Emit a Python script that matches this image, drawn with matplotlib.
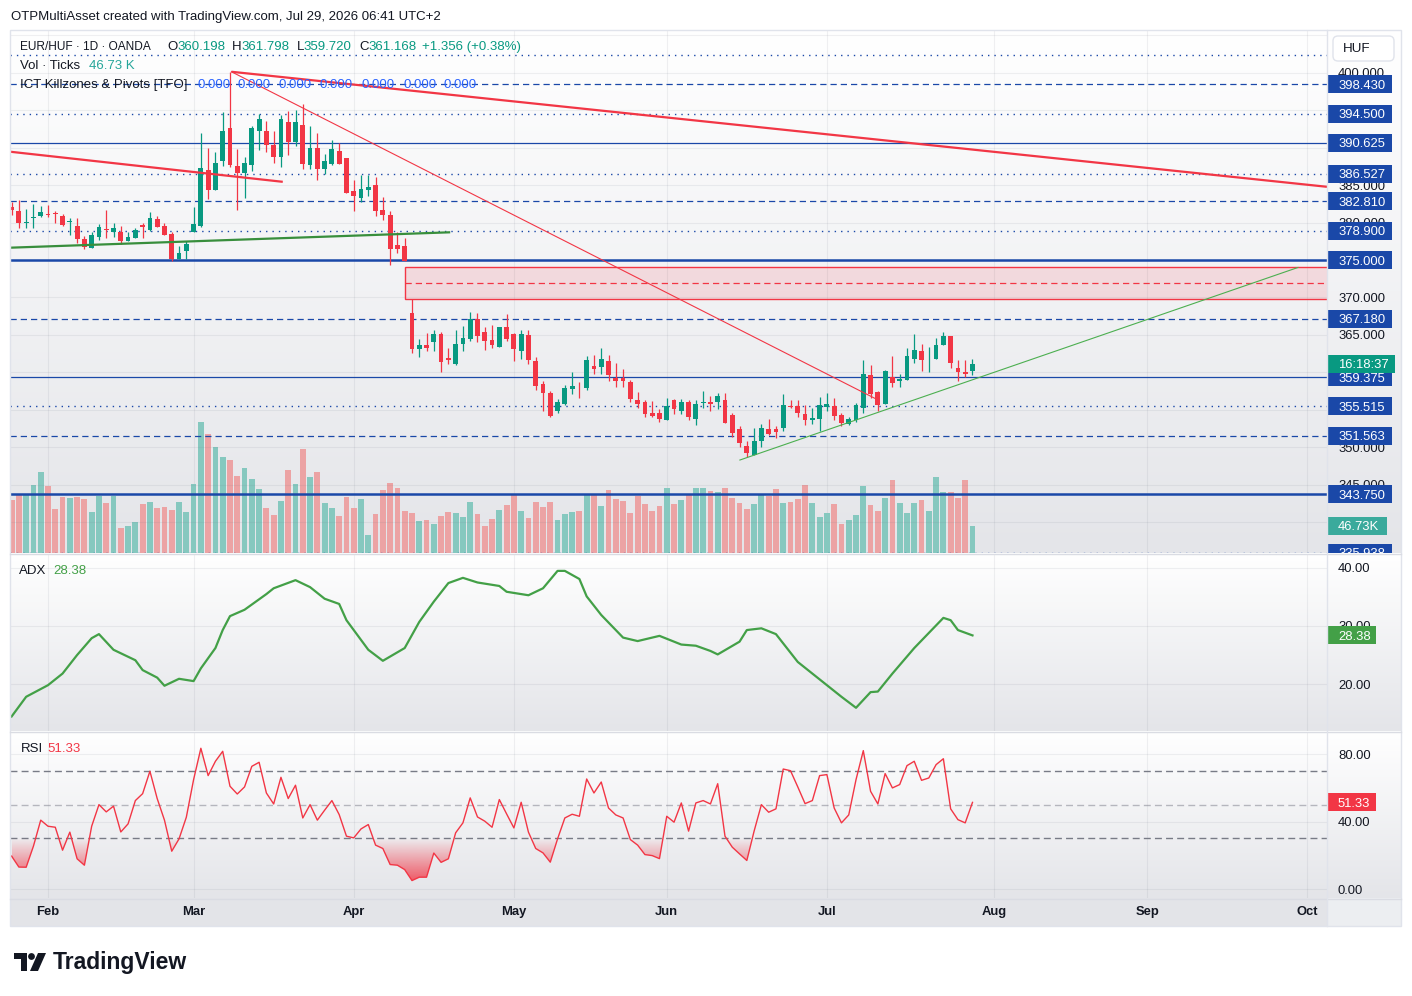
import numpy as np
import pandas as pd
import matplotlib
matplotlib.use('Agg')
import matplotlib.pyplot as plt
import matplotlib.colors as mcolors
from matplotlib.patches import Rectangle, FancyBboxPatch, Polygon, Circle, PathPatch
from matplotlib.path import Path

plt.rcParams['font.family'] = ['Liberation Sans', 'DejaVu Sans']

# ---------------- data ----------------
FIRST_DATE = '2026-01-26'
AXIS_END_DATE = '2026-10-30'

open_ = [382.1, 381.5, 379.9, 380.6, 380.9, 381.2, 381.3, 380.9, 380.1, 379.5,
         377.8, 376.6, 378.1, 379.15, 378.8, 378.8, 377.6, 378.0, 379.7, 379.0,
         380.5, 379.6, 378.5, 375.1, 376.2, 378.8, 379.5, 387.0, 384.4, 388.2,
         392.6, 387.5, 386.6, 387.7, 392.2, 392.2, 390.3, 388.7, 393.4, 390.7,
         393.0, 387.7, 390.0, 387.2, 387.8, 389.5, 388.6, 384.2, 383.3, 384.3,
         385.0, 381.7, 381.0, 377.0, 376.9, 367.9, 363.1, 363.7, 364.0, 365.1,
         361.9, 361.1, 363.8, 364.5, 367.1, 365.4, 364.3, 363.4, 366.1, 365.1,
         362.8, 365.0, 361.5, 358.5, 357.3, 354.8, 355.8, 357.85, 358.1, 357.9,
         360.9, 360.7, 361.5, 359.3, 359.3, 358.7, 356.3, 356.0, 354.65, 354.65,
         353.7, 356.3, 354.9, 356.1, 353.85, 355.9, 356.0, 356.0, 356.3, 354.3,
         352.5, 350.2, 349.05, 350.9, 352.5, 352.45, 352.6, 355.55, 355.5, 354.5,
         353.6, 353.8, 355.4, 355.5, 354.3, 353.1, 353.7, 355.3, 359.7, 357.4,
         355.8, 359.35, 358.9, 359.0, 361.8, 362.9, 362.0, 361.85, 363.6, 364.8,
         360.65, 360.0, 360.198]
high_ = [382.8, 383.0, 381.8, 382.5, 382.2, 382.3, 381.5, 381.2, 380.6, 380.6,
         378.2, 378.7, 379.8, 381.7, 379.9, 379.5, 378.8, 379.3, 380.0, 381.4,
         380.9, 379.9, 378.7, 376.9, 377.5, 382.1, 391.9, 390.0, 389.4, 394.8,
         400.1, 389.8, 388.7, 392.9, 394.5, 393.5, 392.2, 394.3, 394.9, 395.0,
         395.8, 392.9, 391.9, 389.1, 391.0, 390.6, 388.6, 385.7, 386.3, 386.4,
         386.1, 383.4, 381.6, 378.8, 377.9, 369.8, 364.4, 365.2, 365.7, 365.4,
         363.2, 365.7, 366.2, 368.0, 367.9, 366.1, 366.3, 366.1, 367.8, 365.2,
         365.6, 365.6, 362.0, 358.8, 357.5, 356.5, 358.3, 360.0, 358.7, 362.2,
         362.3, 363.2, 362.3, 361.3, 360.5, 359.0, 357.4, 356.3, 356.2, 355.1,
         356.6, 356.5, 356.5, 356.3, 356.3, 357.5, 356.9, 357.2, 357.2, 354.6,
         352.8, 350.9, 352.6, 353.1, 353.8, 352.9, 357.1, 356.3, 356.3, 355.7,
         355.2, 356.7, 357.3, 356.55, 354.65, 354.1, 355.9, 361.7, 361.0, 357.5,
         360.3, 362.2, 359.8, 363.2, 365.1, 363.8, 363.4, 364.6, 365.4, 364.9,
         361.7, 361.7, 361.798]
low_ = [381.0, 379.3, 379.3, 379.3, 380.7, 380.7, 379.9, 379.6, 378.4, 377.3,
        376.5, 376.6, 377.7, 377.9, 378.1, 377.2, 377.5, 377.9, 378.0, 378.9,
        379.4, 378.3, 374.9, 375.1, 375.1, 378.7, 379.4, 383.1, 384.3, 387.5,
        387.4, 381.7, 383.3, 386.9, 389.7, 389.4, 388.0, 387.4, 389.0, 390.2,
        387.1, 387.2, 385.7, 386.5, 387.7, 387.75, 384.0, 381.6, 382.8, 383.6,
        380.9, 380.4, 374.4, 375.9, 374.9, 362.6, 362.0, 362.9, 362.9, 360.0,
        361.1, 361.0, 362.9, 364.2, 364.0, 363.0, 363.2, 363.4, 364.2, 361.5,
        361.8, 361.1, 357.7, 354.9, 354.0, 354.6, 355.7, 357.1, 356.65, 357.7,
        359.8, 359.8, 358.9, 358.1, 358.0, 356.0, 355.3, 354.0, 354.0, 353.45,
        353.6, 354.5, 354.4, 353.7, 353.0, 355.3, 354.8, 355.1, 353.2, 351.45,
        350.0, 348.7, 349.05, 350.0, 351.7, 351.2, 352.2, 355.2, 354.1, 353.0,
        353.1, 352.2, 354.8, 353.6, 352.8, 353.0, 353.45, 354.65, 356.55, 354.9,
        355.8, 358.1, 358.0, 359.0, 361.3, 360.2, 360.1, 361.85, 363.6, 360.55,
        358.9, 359.4, 359.72]
close_ = [381.7, 380.0, 380.1, 380.8, 381.4, 381.0, 381.2, 379.7, 380.2, 377.8,
          376.8, 378.3, 379.4, 379.05, 379.3, 377.6, 378.1, 379.0, 379.4, 380.6,
          379.4, 378.4, 375.1, 375.9, 377.1, 379.8, 387.3, 384.3, 387.9, 392.2,
          387.7, 386.6, 387.9, 392.6, 393.8, 390.4, 388.8, 393.8, 390.8, 393.4,
          387.8, 390.0, 387.1, 388.2, 389.8, 387.8, 384.0, 383.6, 384.5, 384.7,
          381.6, 381.0, 376.5, 376.5, 374.9, 363.1, 363.7, 363.2, 365.1, 361.45,
          361.7, 363.8, 364.6, 367.1, 364.9, 364.2, 363.6, 366.0, 364.5, 363.1,
          365.1, 361.6, 358.2, 357.3, 354.2, 356.1, 357.9, 358.2, 358.0, 361.7,
          360.5, 361.8, 359.6, 358.9, 358.8, 356.5, 355.8, 354.4, 354.2, 353.85,
          355.5, 355.1, 356.1, 354.1, 355.8, 356.0, 355.8, 356.9, 353.2, 351.9,
          350.6, 349.2, 350.9, 352.6, 351.85, 352.1, 355.7, 355.35, 354.6, 353.7,
          353.9, 355.7, 355.8, 354.2, 353.3, 353.8, 355.7, 359.8, 357.1, 355.7,
          360.2, 358.65, 359.1, 362.2, 363.0, 361.7, 362.1, 363.7, 364.8, 361.2,
          360.1, 359.8, 361.168]
volume_k = [91.7, 100.3, 100.3, 117.6, 140.1, 115.9, 76.1, 96.9, 95.2, 96.9,
            93.4, 70.9, 98.6, 86.5, 98.6, 43.3, 46.7, 53.6, 84.8, 88.2,
            77.9, 79.6, 74.4, 88.2, 70.9, 119.4, 226.6, 205.9, 183.4, 166.1,
            160.9, 133.2, 147.1, 128.0, 110.7, 77.9, 65.7, 90.0, 143.6, 119.4,
            179.9, 131.5, 140.1, 86.5, 77.9, 64.0, 96.9, 77.9, 93.4, 31.1,
            67.5, 109.0, 121.1, 112.5, 72.7, 69.2, 55.4, 57.1, 50.2, 64.0,
            70.9, 69.2, 62.3, 88.2, 67.5, 46.7, 58.8, 74.4, 83.0, 100.3,
            72.7, 60.6, 88.2, 79.6, 88.2, 57.1, 67.5, 70.9, 72.7, 100.3,
            100.3, 81.3, 109.0, 93.4, 90.0, 69.2, 98.6, 84.8, 72.7, 81.3,
            112.5, 84.8, 91.7, 102.1, 112.5, 112.5, 107.3, 105.5, 112.5, 95.2,
            86.5, 76.1, 84.8, 102.1, 98.6, 110.7, 86.5, 88.2, 93.4, 117.6,
            86.5, 62.3, 69.2, 84.8, 50.2, 57.1, 65.7, 115.9, 83.0, 72.7,
            95.2, 126.3, 86.5, 69.2, 86.5, 91.7, 72.7, 131.5, 105.5, 105.5,
            95.2, 126.3, 46.73]
rsi_vals = [19.5, 13.0, 12.9, 25.4, 40.8, 37.2, 36.6, 23.0, 33.7, 17.9,
            14.1, 37.2, 50.0, 45.7, 49.1, 33.8, 38.6, 52.4, 56.5, 69.8,
            53.6, 40.8, 22.4, 29.7, 42.5, 64.8, 83.4, 67.2, 75.7, 81.6,
            60.9, 56.3, 60.5, 72.7, 75.1, 56.9, 50.4, 66.2, 53.6, 61.5,
            42.1, 50.0, 40.8, 46.7, 52.4, 44.1, 31.3, 30.3, 35.6, 38.2,
            26.0, 24.0, 14.5, 14.1, 11.5, 5.0, 7.0, 7.0, 21.3, 15.8,
            17.9, 33.3, 39.2, 54.0, 42.7, 40.2, 36.6, 53.0, 44.5, 36.2,
            51.4, 33.7, 24.0, 21.4, 15.9, 29.7, 42.1, 44.3, 43.1, 65.2,
            56.9, 63.4, 48.0, 43.9, 42.1, 29.3, 26.0, 20.4, 19.8, 18.0,
            43.1, 39.6, 51.0, 34.3, 51.0, 52.4, 50.4, 62.4, 31.3, 24.8,
            20.8, 16.9, 34.3, 50.0, 45.5, 47.5, 71.1, 70.1, 60.5, 50.6,
            52.4, 67.2, 67.8, 48.0, 39.2, 43.9, 64.8, 82.0, 57.9, 50.4,
            68.4, 59.9, 61.9, 73.1, 75.7, 64.4, 65.8, 73.7, 77.2, 47.5,
            41.1, 39.2, 51.33]
adx_bar = [0, 2, 5, 7, 9, 11, 12, 14, 17, 18, 20, 21, 23, 25, 26, 28, 29, 30, 32, 35,
           36, 39, 41, 43, 45, 46, 49, 51, 54, 56, 58, 60, 62, 64, 67, 68, 71, 73, 75, 76,
           78, 79, 81, 84, 86, 89, 92, 94, 96, 97, 100, 101, 103, 105, 108, 110, 112, 114, 116, 118,
           119, 121, 124, 126, 128, 129, 130, 132]
adx_vals = [14.4, 17.8, 19.8, 21.8, 25.0, 27.9, 28.6, 25.9, 24.1, 22.4, 21.1, 19.7, 20.9, 20.5, 22.7, 26.2, 29.3, 31.7, 32.8, 35.5,
            36.5, 37.9, 36.7, 34.7, 33.8, 31.0, 25.9, 24.0, 26.2, 30.7, 34.2, 37.4, 38.3, 37.5, 36.9, 35.9, 35.3, 36.5, 39.5, 39.5,
            38.1, 35.1, 31.9, 28.0, 27.4, 28.3, 26.8, 26.6, 25.7, 25.1, 27.3, 29.3, 29.6, 28.6, 23.8, 21.8, 19.8, 17.8, 15.9, 18.6,
            18.7, 21.8, 26.2, 28.8, 31.4, 31.0, 29.3, 28.38]

level_prices = [402.344, 398.430, 394.500, 390.625, 386.527, 382.810, 378.900, 375.000,
                367.180, 359.375, 355.515, 351.563, 343.750, 335.938]
level_kinds = ['dot', 'dash', 'dot', 'solid', 'dot', 'dash', 'dot', 'thick',
               'dash', 'solid', 'dot', 'dash', 'thick', 'dot']
level_labels = ['', '398.430', '394.500', '390.625', '386.527', '382.810', '378.900', '375.000',
                '367.180', '359.375', '355.515', '351.563', '343.750', '335.938']
price_ticks = [400, 385, 380, 370, 365, 350, 345, 340]
adx_ticks = [40, 30, 20]
rsi_ticks = [80, 40, 0]
rsi_bands = [70, 50, 30]

# drawings (bar index, price)
trend_red_long = ([30.2, 180.7], [400.1, 384.76])
trend_red_thin = ([30.2, 118.8], [400.1, 356.45])
trend_red_left = ([-0.22, 37.1], [389.44, 385.44])
trend_green_left = ([-0.22, 60.1], [376.64, 378.69])
trend_green_thin = ([100.05, 176.7], [348.33, 374.0])
fvg_zone = (54.1, 369.76, 374.02, 371.89)   # start bar, bottom, top, mid

last_o, last_h, last_l, last_c = 360.198, 361.798, 359.720, 361.168

# ---------------- setup ----------------
W, H = 1412, 996
fig = plt.figure(figsize=(W / 100, H / 100), dpi=100)
fig.patch.set_facecolor('white')

GREEN = '#089981'
RED = '#f23645'
VOL_G = '#86c8bf'
VOL_R = '#eca3a4'
BLUE = '#1a48a8'
TXT = '#131722'
GRID = (0.42, 0.45, 0.52, 0.10)

XMIN, XMAX = -0.22, 180.7
P_BOT, P_TOP = 335.933, 405.667
VOL_TOP = 904.8
ADX_BOT, ADX_TOP = 11.90, 42.41
RSI_BOT, RSI_TOP = -5.33, 93.04

o = np.array(open_); hh = np.array(high_); ll = np.array(low_); c = np.array(close_)
x = np.arange(len(c))
up = c >= o
cols = np.where(up, GREEN, RED)

dates = pd.bdate_range(FIRST_DATE, AXIS_END_DATE)
month_pos = [k for k in range(1, len(dates)) if dates[k].month != dates[k - 1].month]
month_lab = [dates[k].strftime('%b') for k in month_pos]


def frect(x0, y0, x1, y1):
    return [x0 / W, 1 - y1 / H, (x1 - x0) / W, (y1 - y0) / H]


def gradient(ax, top='#ffffff', bottom='#e4e5e9'):
    c1 = np.array(mcolors.to_rgb(top)); c2 = np.array(mcolors.to_rgb(bottom))
    t = np.linspace(0, 1, 256)[:, None]
    img = (c1 * (1 - t) + c2 * t)[:, None, :]
    ax.imshow(img, extent=[0, 1, 0, 1], transform=ax.transAxes, aspect='auto',
              zorder=-10, interpolation='bilinear')


def clean(ax):
    ax.set_xticks([]); ax.set_yticks([])
    for s in ax.spines.values():
        s.set_visible(False)


# ---------------- main pane ----------------
axv = fig.add_axes(frect(10, 30, 1327, 553), label='vol')
gradient(axv)
axv.bar(x, volume_k, width=0.8, color=np.where(up, VOL_G, VOL_R), zorder=2, linewidth=0)
for p in month_pos:
    axv.axvline(p, color=GRID, lw=0.8, zorder=1)
axv.set_xlim(XMIN, XMAX); axv.set_ylim(0, VOL_TOP); clean(axv)

ax = fig.add_axes(frect(10, 30, 1327, 553), label='price')
ax.set_zorder(axv.get_zorder() + 1)
ax.patch.set_visible(False)
for p in np.arange(340, 406, 5):
    ax.axhline(p, color=GRID, lw=0.8, zorder=0.5)

style = {'dot': dict(ls=(0, (1.0, 3.6)), lw=1.0),
         'dash': dict(ls=(0, (5.0, 3.2)), lw=0.9),
         'solid': dict(ls='-', lw=0.9),
         'thick': dict(ls='-', lw=1.8)}
for p, k in zip(level_prices, level_kinds):
    ax.axhline(p, color=BLUE, zorder=2, **style[k])

# FVG box
fx, fb, ft, fm = fvg_zone
ax.add_patch(Rectangle((fx, fb), XMAX + 5 - fx, ft - fb, facecolor=(242/255, 54/255, 69/255, 0.13),
                       edgecolor=RED, lw=1.0, zorder=1.8))
ax.plot([fx, XMAX + 5], [fm, fm], color=RED, lw=0.9, ls=(0, (5, 3.2)), zorder=1.9)

# candles
ax.vlines(x, ll, hh, colors=cols, lw=0.9, zorder=3)
ax.bar(x, np.maximum(np.abs(c - o), 0.12), bottom=np.minimum(o, c), width=0.66,
       color=cols, linewidth=0, zorder=3.1)

# drawings
ax.plot(*trend_red_long, color=RED, lw=1.6, zorder=4, solid_capstyle='butt')
ax.plot(*trend_red_thin, color=RED, lw=0.8, zorder=4)
ax.plot(*trend_red_left, color=RED, lw=1.6, zorder=4)
ax.plot(*trend_green_left, color='#388e3c', lw=1.6, zorder=4)
ax.plot(*trend_green_thin, color='#4caf50', lw=0.8, zorder=4)

ax.set_xlim(XMIN, XMAX); ax.set_ylim(P_BOT, P_TOP); clean(ax)

# right price scale
rax = fig.add_axes(frect(1327, 30, 1401, 553), label='rprice')
gradient(rax)
rax.set_xlim(0, 74); rax.set_ylim(P_BOT, P_TOP); clean(rax)
LBL_FS = 9.4


def scale_label(a, y, text, fc, half, w=64, tc='white'):
    a.add_patch(Rectangle((1, y - half), w, 2 * half, facecolor=fc, edgecolor='none', zorder=2, clip_on=True))
    a.text(11, y, text, color=tc, fontsize=LBL_FS, va='center_baseline', ha='left', zorder=3, clip_on=True)


for t in price_ticks:
    rax.text(11, t, f'{t:.3f}', color=TXT, fontsize=LBL_FS, va='center_baseline', ha='left', zorder=1, clip_on=True)
half_p = 9 / 7.5
for p, lab in zip(level_prices, level_labels):
    if lab:
        scale_label(rax, p, lab, BLUE, half_p)
scale_label(rax, last_c, '16:18:37', GREEN, half_p, w=67)
vol_y = P_BOT + volume_k[-1] / VOL_TOP * (P_TOP - P_BOT)
scale_label(rax, vol_y, '46.73K', '#3aaa9c', half_p, w=59)

# ---------------- ADX pane ----------------
axa = fig.add_axes(frect(10, 554, 1327, 731), label='adx')
gradient(axa)
for p in month_pos:
    axa.axvline(p, color=GRID, lw=0.8, zorder=1)
for t in adx_ticks:
    axa.axhline(t, color=GRID, lw=0.8, zorder=1)
axa.plot(adx_bar, adx_vals, color='#43a047', lw=1.6, zorder=3)
axa.set_xlim(XMIN, XMAX); axa.set_ylim(ADX_BOT, ADX_TOP); clean(axa)

raa = fig.add_axes(frect(1327, 554, 1401, 731), label='radx')
gradient(raa)
raa.set_xlim(0, 74); raa.set_ylim(ADX_BOT, ADX_TOP); clean(raa)
for t in adx_ticks:
    raa.text(11, t, f'{t:.2f}', color=TXT, fontsize=LBL_FS, va='center_baseline', ha='left', zorder=1)
scale_label(raa, adx_vals[-1], f'{adx_vals[-1]:.2f}', '#43a047', 9 / 5.8, w=48)

# ---------------- RSI pane ----------------
axr = fig.add_axes(frect(10, 732, 1327, 898), label='rsi')
gradient(axr)
for p in month_pos:
    axr.axvline(p, color=GRID, lw=0.8, zorder=1)
for t in rsi_ticks:
    axr.axhline(t, color=GRID, lw=0.8, zorder=1)
for t in rsi_bands:
    axr.axhline(t, color='#787b86', lw=1.0, ls=(0, (5, 3)), alpha=0.5 if t == 50 else 1.0, zorder=1.5)

rsi = np.array(rsi_vals)


def grad_fill(a, xs, ys, level, below, color, amax, lim):
    if below:
        coll = a.fill_between(xs, ys, level, where=ys < level, interpolate=True,
                              facecolor='none', edgecolor='none')
        y0, y1 = lim, level
        alpha = np.linspace(0, amax, 256)
    else:
        coll = a.fill_between(xs, ys, level, where=ys > level, interpolate=True,
                              facecolor='none', edgecolor='none')
        y0, y1 = level, lim
        alpha = np.linspace(amax, 0, 256)
    paths = [pp for pp in coll.get_paths() if len(pp.vertices) > 0]
    if not paths:
        return
    cp = Path.make_compound_path(*paths)
    patch = PathPatch(cp, transform=a.transData, facecolor='none', edgecolor='none')
    a.add_patch(patch)
    rgba = np.zeros((256, 1, 4))
    rgba[..., :3] = mcolors.to_rgb(color)
    rgba[:, 0, 3] = alpha
    im = a.imshow(rgba, extent=[xs[0], xs[-1], y0, y1], aspect='auto', origin='upper',
                  zorder=2, interpolation='bilinear')
    im.set_clip_path(patch)


grad_fill(axr, x.astype(float), rsi, 30, True, RED, 0.95, 0)
grad_fill(axr, x.astype(float), rsi, 70, False, '#4caf50', 0.35, 100)
axr.plot(x, rsi, color=RED, lw=1.0, zorder=3)
axr.set_xlim(XMIN, XMAX); axr.set_ylim(RSI_BOT, RSI_TOP); clean(axr)

rar = fig.add_axes(frect(1327, 732, 1401, 898), label='rrsi')
gradient(rar)
rar.set_xlim(0, 74); rar.set_ylim(RSI_BOT, RSI_TOP); clean(rar)
for t in rsi_ticks:
    rar.text(11, t, f'{t:.2f}', color=TXT, fontsize=LBL_FS, va='center_baseline', ha='left', zorder=1)
scale_label(rar, rsi[-1], f'{rsi[-1]:.2f}', RED, 9 / 1.6875, w=48)

# ---------------- time axis ----------------
axt = fig.add_axes(frect(10, 898, 1327, 926), label='time')
axt.set_facecolor('#e3e4e8')
axt.set_xlim(XMIN, XMAX); axt.set_ylim(0, 1); clean(axt)
for p, lab in zip(month_pos, month_lab):
    axt.text(p, 0.5, lab, ha='center', va='center', fontsize=9.4, color=TXT, fontweight='bold')
axt2 = fig.add_axes(frect(1327, 898, 1401, 926), label='time2')
axt2.set_facecolor('#eceef1'); clean(axt2)

# ---------------- overlay ----------------
ov = fig.add_axes([0, 0, 1, 1], label='overlay')
ov.set_xlim(0, W); ov.set_ylim(H, 0); ov.axis('off')
ov.set_zorder(50); ov.patch.set_visible(False)

FR = '#dadce3'
ov.add_patch(Rectangle((10, 30), 1391, 896, fill=False, edgecolor='#e0e3eb', lw=1))
for yy in (553.5, 731.5, 898.5):
    ov.plot([10, 1401], [yy, yy], color=FR, lw=1)
ov.plot([1327, 1327], [30, 926], color='#e0e3eb', lw=1)

# HUF box
ov.add_patch(FancyBboxPatch((1333, 36), 61, 25, boxstyle='round,pad=0,rounding_size=5',
                            facecolor='white', edgecolor='#e0e3eb', lw=1))
ov.text(1343, 48.5, 'HUF', fontsize=9.6, color=TXT, va='center', ha='left')

FS = 9.5
ov.text(11, 17, 'OTPMultiAsset created with TradingView.com, Jul 29, 2026 06:41 UTC+2',
        fontsize=FS, color=TXT, va='center', ha='left')

ov.text(19.6, 47, 'EUR/HUF · 1D · OANDA', fontsize=8.6, color=TXT, va='center', ha='left')
row1 = [(167, 'O', TXT), (177.5, f'{last_o:.3f}', GREEN),
        (232, 'H', TXT), (241, f'{last_h:.3f}', GREEN), (296.4, 'L', TXT), (303.6, f'{last_l:.3f}', GREEN),
        (359, 'C', TXT), (368, f'{last_c:.3f}', GREEN), (422.5, '+1.356 (+0.38%)', GREEN)]
for xx, s, col in row1:
    ov.text(xx, 47, s, fontsize=FS, color=col, va='center', ha='left')
ov.text(19.6, 66, 'Vol · Ticks', fontsize=FS, color=TXT, va='center', ha='left')
ov.text(89, 66, '46.73 K', fontsize=FS, color='#26a69a', va='center', ha='left')
ov.text(19.6, 85, 'ICT Killzones & Pivots [TFO]', fontsize=FS, color=TXT, va='center', ha='left')
for xx in [197.5, 237.5, 278.6, 319, 362, 403, 444]:
    ov.text(xx, 85, '0.000', fontsize=FS, color='#2962ff', va='center', ha='left')

ov.text(19, 571, 'ADX', fontsize=FS, color=TXT, va='center', ha='left')
ov.text(53, 571, f'{adx_vals[-1]:.2f}', fontsize=FS, color='#43a047', va='center', ha='left')
ov.text(20.7, 749, 'RSI', fontsize=FS, color=TXT, va='center', ha='left')
ov.text(47, 749, f'{rsi[-1]:.2f}', fontsize=FS, color=RED, va='center', ha='left')

# TradingView logo
cy = 962
ov.add_patch(Polygon([(14, cy - 9), (27, cy - 9), (27, cy + 9), (21, cy + 9), (21, cy - 3), (14, cy - 3)],
                     closed=True, facecolor='#131722', edgecolor='none'))
ov.add_patch(Circle((31.5, cy - 5.5), 3.4, facecolor='#131722', edgecolor='none'))
ov.add_patch(Polygon([(38, cy - 9), (46, cy - 9), (38, cy + 9), (30, cy + 9)],
                     closed=True, facecolor='#131722', edgecolor='none'))
ov.text(53, cy + 0.5, 'TradingView', fontsize=16.5, fontweight='bold', color='#131722',
        va='center', ha='left')

fig.savefig('out.png', dpi=100)
